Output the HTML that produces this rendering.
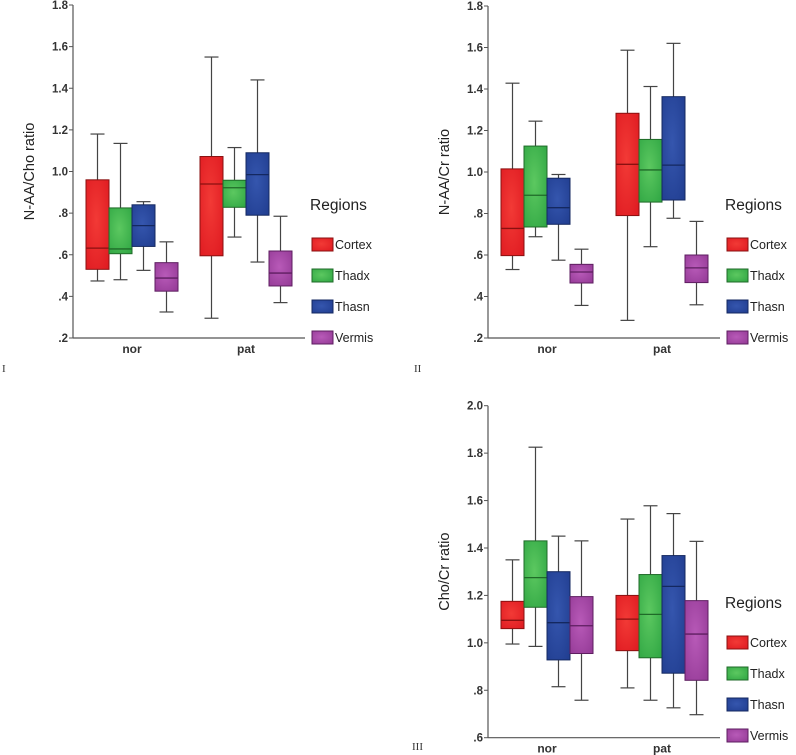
<!DOCTYPE html>
<html><head><meta charset="utf-8"><style>
html,body{margin:0;padding:0;background:#fff;}
svg{display:block;font-family:"Liberation Sans",Arial,sans-serif;}
</style></head><body>
<svg id="s" width="796" height="755">
<defs>
<radialGradient id="gCortex" cx="0.45" cy="0.45" r="0.7"><stop offset="0" stop-color="#f23a36"/><stop offset="1" stop-color="#e01c22"/></radialGradient>
<radialGradient id="gThadx" cx="0.45" cy="0.45" r="0.7"><stop offset="0" stop-color="#5cc860"/><stop offset="1" stop-color="#32a845"/></radialGradient>
<radialGradient id="gThasn" cx="0.45" cy="0.45" r="0.7"><stop offset="0" stop-color="#3556ae"/><stop offset="1" stop-color="#223f92"/></radialGradient>
<radialGradient id="gVermis" cx="0.45" cy="0.45" r="0.7"><stop offset="0" stop-color="#b85ab8"/><stop offset="1" stop-color="#963c98"/></radialGradient>
</defs>
</svg>
<script>
const regions=["Cortex","Thadx","Thasn","Vermis"];
const groups=["nor","pat"];
const strokeCols=["#8a1010","#1f6a28","#142860","#5e1e60"];
// [min,q1,median,q3,max] per group per region
const chart1Nor=[[0.474,0.53,0.632,0.96,1.18],[0.48,0.605,0.628,0.825,1.135],[0.525,0.64,0.74,0.84,0.855],[0.325,0.425,0.488,0.562,0.662]];
const chart1Pat=[[0.295,0.595,0.94,1.072,1.55],[0.685,0.828,0.922,0.958,1.115],[0.565,0.79,0.985,1.09,1.44],[0.37,0.45,0.512,0.618,0.785]];
const chart2Nor=[[0.53,0.597,0.728,1.015,1.428],[0.688,0.735,0.888,1.125,1.245],[0.575,0.748,0.828,0.97,0.988],[0.357,0.465,0.518,0.555,0.628]];
const chart2Pat=[[0.285,0.79,1.037,1.283,1.587],[0.64,0.855,1.01,1.157,1.412],[0.777,0.865,1.033,1.363,1.62],[0.36,0.467,0.538,0.6,0.762]];
const chart3Nor=[[0.995,1.06,1.095,1.175,1.35],[0.985,1.15,1.275,1.43,1.825],[0.815,0.928,1.085,1.3,1.45],[0.758,0.955,1.072,1.195,1.43]];
const chart3Pat=[[0.81,0.967,1.1,1.2,1.522],[0.758,0.937,1.12,1.288,1.578],[0.726,0.872,1.238,1.368,1.545],[0.697,0.842,1.037,1.178,1.428]];
const ticks12=[0.2,0.4,0.6,0.8,1.0,1.2,1.4,1.6,1.8];
const tickLabels12=[".2",".4",".6",".8","1.0","1.2","1.4","1.6","1.8"];
const ticks3=[0.6,0.8,1.0,1.2,1.4,1.6,1.8,2.0];
const tickLabels3=[".6",".8","1.0","1.2","1.4","1.6","1.8","2.0"];

const svg=document.getElementById('s');
const NS="http://www.w3.org/2000/svg";
function mk(tag,attrs,parent,text){const e=document.createElementNS(NS,tag);for(const k in attrs)e.setAttribute(k,attrs[k]);if(text!==undefined)e.textContent=text;parent.appendChild(e);return e;}

function drawChart(cfg){
  const g=mk('g',{},svg);
  
  
  const y=v=>cfg.yBot-(v-cfg.vMin)/(cfg.vMax-cfg.vMin)*(cfg.yBot-cfg.yTop);
  // axes
  const ax=mk('line',{x1:cfg.ax,y1:cfg.yTop,x2:cfg.ax,y2:cfg.yBot,stroke:'#555','stroke-width':1.2},g);
  
  const bx=mk('line',{x1:cfg.ax,y1:cfg.yBot,x2:cfg.axEnd,y2:cfg.yBot,stroke:'#555','stroke-width':1.2},g);
  
  cfg.ticks.forEach((t,i)=>{
    const yy=y(t);
    const tk=mk('line',{x1:cfg.ax-4,y1:yy,x2:cfg.ax,y2:yy,stroke:'#555','stroke-width':1},g);
    
    const tl=mk('text',{x:cfg.ax-5,y:yy+4,'text-anchor':'end','font-size':11.5,'font-weight':'bold',fill:'#333'},g,cfg.tickLabels[i]);
    
  });
  const yl=mk('text',{x:0,y:0,'text-anchor':'middle','font-size':14.5,fill:'#222',transform:`translate(${cfg.ax-39},${(cfg.yTop+cfg.yBot)/2}) rotate(-90)`},g,cfg.yTitle);
  
  const data=[cfg.nor,cfg.pat];
  groups.forEach((gr,gi)=>{
    const x0=cfg.groupX[gi];
    const lbl=mk('text',{x:x0+2*cfg.bw,y:cfg.yBot+15,'text-anchor':'middle','font-size':12,'font-weight':'bold',fill:'#333'},g,gr);
    
    regions.forEach((r,ri)=>{
      const d=data[gi][ri];
      const bl=x0+ri*cfg.bw, cx=bl+cfg.bw/2;
      const wg=mk('g',{},g);
      
      
      mk('line',{x1:cx,y1:y(d[4]),x2:cx,y2:y(d[3]),stroke:'#444','stroke-width':1.2},wg);
      mk('line',{x1:cx,y1:y(d[1]),x2:cx,y2:y(d[0]),stroke:'#444','stroke-width':1.2},wg);
      mk('line',{x1:cx-7,y1:y(d[4]),x2:cx+7,y2:y(d[4]),stroke:'#444','stroke-width':1.2},wg);
      mk('line',{x1:cx-7,y1:y(d[0]),x2:cx+7,y2:y(d[0]),stroke:'#444','stroke-width':1.2},wg);
      mk('rect',{x:bl,y:y(d[3]),width:cfg.bw,height:y(d[1])-y(d[3]),fill:'url(#g'+r+')',stroke:strokeCols[ri],'stroke-width':1},wg);
      mk('line',{x1:bl,y1:y(d[2]),x2:bl+cfg.bw,y2:y(d[2]),stroke:strokeCols[ri],'stroke-width':1.3},wg);
    });
  });
  // legend
  const lg=mk('g',{},g);
  
  mk('text',{x:cfg.legX-2,y:cfg.legY,'font-size':15.5,fill:'#222'},lg,'Regions');
  regions.forEach((r,ri)=>{
    const yy=cfg.legY+28+ri*31;
    const e=mk('g',{},lg);
    
    mk('rect',{x:cfg.legX,y:yy,width:21,height:13,fill:'url(#g'+r+')',stroke:strokeCols[ri],'stroke-width':1},e);
    mk('text',{x:cfg.legX+23,y:yy+11,'font-size':12.5,fill:'#222'},e,r);
  });
  const rn=mk('text',{x:cfg.romanX,y:cfg.romanY,'font-size':11,'font-family':'Liberation Serif,serif',fill:'#333'},g,cfg.roman);
  
}
drawChart({name:'chart-naa-cho',ax:73,axEnd:305,yTop:5,yBot:338,vMin:0.2,vMax:1.8,ticks:ticks12,tickLabels:tickLabels12,yTitle:'N-AA/Cho ratio',nor:chart1Nor,pat:chart1Pat,groupX:[86,200],bw:23,legX:312,legY:210,roman:'I',romanX:2,romanY:372});
drawChart({name:'chart-naa-cr',ax:488,axEnd:720,yTop:6,yBot:338,vMin:0.2,vMax:1.8,ticks:ticks12,tickLabels:tickLabels12,yTitle:'N-AA/Cr ratio',nor:chart2Nor,pat:chart2Pat,groupX:[501,616],bw:23,legX:727,legY:210,roman:'II',romanX:414,romanY:372});
drawChart({name:'chart-cho-cr',ax:488,axEnd:720,yTop:405.7,yBot:737.7,vMin:0.6,vMax:2.0,ticks:ticks3,tickLabels:tickLabels3,yTitle:'Cho/Cr ratio',nor:chart3Nor,pat:chart3Pat,groupX:[501,616],bw:23,legX:727,legY:608,roman:'III',romanX:412,romanY:750});
</script>
</body></html>
